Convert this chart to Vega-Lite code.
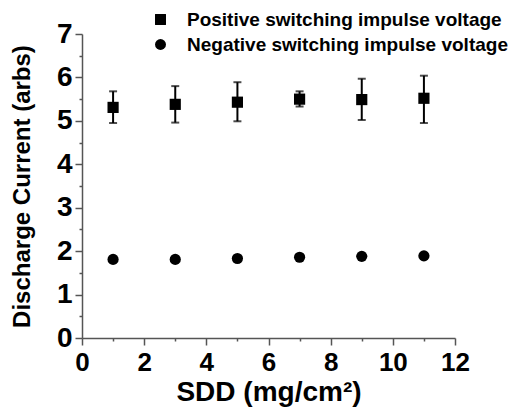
{
  "$schema": "https://vega.github.io/schema/vega-lite/v6.json",
  "autosize": {"type": "none"},
  "padding": {"left": 82, "top": 34, "right": 60, "bottom": 71},
  "width": 373,
  "height": 304,
  "background": "white",
  "config": {
    "view": {"stroke": null},
    "font": "Liberation Sans",
    "axis": {"grid": false, "domainColor": "#555555", "domainWidth": 1.5, "tickColor": "#555555", "tickWidth": 1.5, "labelColor": "black", "titleColor": "black", "labelFont": "Liberation Sans", "titleFont": "Liberation Sans", "labelFontWeight": "bold", "titleFontWeight": "bold"}
  },
  "data": {
    "values": [
      {"series": "Positive switching impulse voltage", "sdd": 1, "current": 5.31, "lo": 4.95, "hi": 5.68},
      {"series": "Positive switching impulse voltage", "sdd": 3, "current": 5.38, "lo": 4.96, "hi": 5.80},
      {"series": "Positive switching impulse voltage", "sdd": 5, "current": 5.43, "lo": 4.99, "hi": 5.89},
      {"series": "Positive switching impulse voltage", "sdd": 7, "current": 5.50, "lo": 5.33, "hi": 5.68},
      {"series": "Positive switching impulse voltage", "sdd": 9, "current": 5.49, "lo": 5.02, "hi": 5.97},
      {"series": "Positive switching impulse voltage", "sdd": 11, "current": 5.52, "lo": 4.95, "hi": 6.04},
      {"series": "Negative switching impulse voltage", "sdd": 1, "current": 1.81},
      {"series": "Negative switching impulse voltage", "sdd": 3, "current": 1.81},
      {"series": "Negative switching impulse voltage", "sdd": 5, "current": 1.83},
      {"series": "Negative switching impulse voltage", "sdd": 7, "current": 1.86},
      {"series": "Negative switching impulse voltage", "sdd": 9, "current": 1.88},
      {"series": "Negative switching impulse voltage", "sdd": 11, "current": 1.89}
    ]
  },
  "encoding": {
    "x": {
      "field": "sdd", "type": "quantitative",
      "scale": {"domain": [0, 12], "nice": false},
      "axis": {
        "title": "SDD (mg/cm²)",
        "titleFontSize": 28,
        "titlePadding": 3,
        "values": [0, 1, 2, 3, 4, 5, 6, 7, 8, 9, 10, 11, 12],
        "labelExpr": "datum.value % 2 === 0 ? format(datum.value, 'd') : ''",
        "labelFontSize": 26,
        "labelPadding": 4,
        "labelFlush": false,
        "labelOverlap": false,
        "tickSize": {"condition": {"test": "datum.value % 2 === 0", "value": 7}, "value": 3}
      }
    },
    "y": {
      "field": "current", "type": "quantitative",
      "scale": {"domain": [0, 7], "nice": false},
      "axis": {
        "title": "Discharge Current (arbs)",
        "titleFontSize": 24,
        "titlePadding": 22,
        "values": [0, 0.5, 1, 1.5, 2, 2.5, 3, 3.5, 4, 4.5, 5, 5.5, 6, 6.5, 7],
        "labelExpr": "datum.value % 1 === 0 ? format(datum.value, 'd') : ''",
        "labelFontSize": 28,
        "labelPadding": 3,
        "labelFlush": false,
        "labelOverlap": false,
        "tickSize": {"condition": {"test": "datum.value % 1 === 0", "value": 7}, "value": 3}
      }
    }
  },
  "layer": [
    {
      "transform": [{"filter": "isValid(datum.lo)"}],
      "mark": {"type": "errorbar", "ticks": {"size": 8, "thickness": 2, "color": "black"}, "rule": {"strokeWidth": 2, "color": "black"}},
      "encoding": {
        "y": {"field": "lo", "type": "quantitative"},
        "y2": {"field": "hi"}
      }
    },
    {
      "mark": {"type": "point", "filled": true, "opacity": 1, "color": "black", "size": 125},
      "encoding": {
        "shape": {
          "field": "series", "type": "nominal",
          "scale": {"domain": ["Positive switching impulse voltage", "Negative switching impulse voltage"], "range": ["square", "circle"]},
          "legend": {
            "title": null,
            "orient": "none",
            "legendX": 69,
            "legendY": -24,
            "padding": 0,
            "symbolSize": 120,
            "symbolFillColor": "black",
            "symbolStrokeColor": "black",
            "symbolOpacity": 1,
            "labelFont": "Liberation Sans",
            "labelFontWeight": "bold",
            "labelFontSize": 19,
            "labelColor": "black",
            "labelOffset": 17,
            "rowPadding": 5,
            "labelLimit": 400
          }
        }
      }
    }
  ]
}
